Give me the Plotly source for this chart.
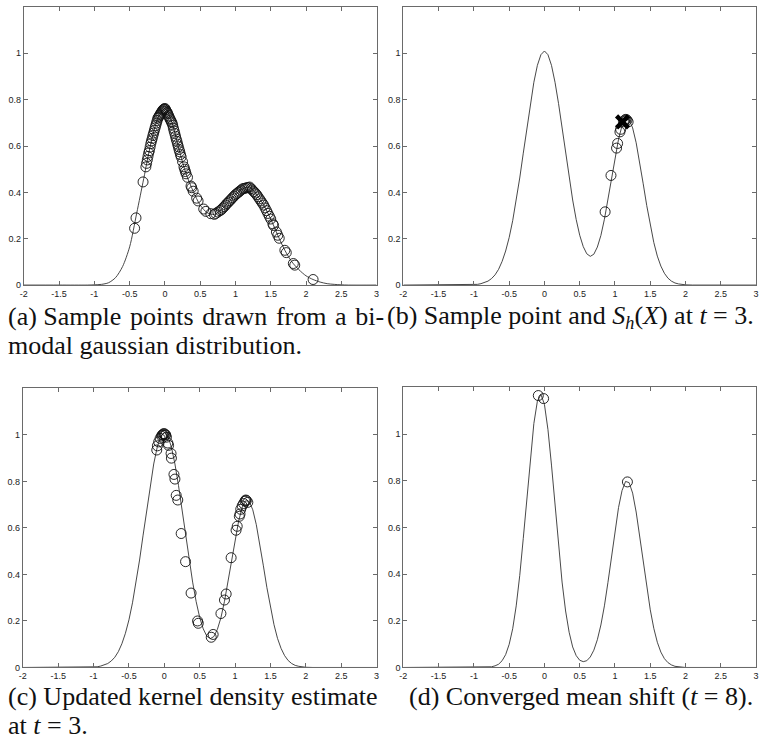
import plotly.graph_objects as go

# ---------------- data ----------------
# (a) kernel density of the initial bimodal samples
curve_a_x = [-2.0, -1.5, -1.1, -1.0, -0.9, -0.8, -0.7, -0.6, -0.5, -0.4, -0.3, -0.2, -0.1,
             0.0, 0.1, 0.2, 0.3, 0.4, 0.5, 0.6, 0.7, 0.8, 0.9, 1.0, 1.1, 1.2, 1.3, 1.4,
             1.5, 1.6, 1.7, 1.8, 1.9, 2.0, 2.1, 2.2, 2.3, 2.4, 2.5, 2.6, 3.0]
curve_a_y = [0.0, 0.0, 0.0, 0.001, 0.003, 0.01, 0.032, 0.08, 0.165, 0.31, 0.46, 0.61, 0.72,
             0.762, 0.70, 0.585, 0.48, 0.405, 0.345, 0.312, 0.305, 0.325, 0.358, 0.39, 0.415,
             0.423, 0.39, 0.345, 0.285, 0.215, 0.15, 0.10, 0.066, 0.04, 0.024, 0.013, 0.006,
             0.003, 0.001, 0.0, 0.0]

samples_a_x = [-0.43, -0.41, -0.31, -0.27, -0.26, -0.25, -0.24, -0.23, -0.22, -0.21, -0.20,
               -0.19, -0.18, -0.17, -0.16, -0.15, -0.14, -0.13, -0.12, -0.11, -0.10, -0.09,
               -0.08, -0.07, -0.06, -0.05, -0.04, -0.03, -0.02, -0.01, 0.00, 0.01, 0.02, 0.03,
               0.04, 0.05, 0.06, 0.07, 0.08, 0.09, 0.10, 0.11, 0.12, 0.13, 0.14, 0.15, 0.16,
               0.17, 0.18, 0.19, 0.20, 0.21, 0.22, 0.23, 0.25, 0.27, 0.28, 0.29, 0.30, 0.32,
               0.37, 0.38, 0.40, 0.45, 0.47, 0.55, 0.58, 0.65, 0.70, 0.72, 0.75, 0.78, 0.80,
               0.82, 0.84, 0.86, 0.88, 0.90, 0.92, 0.94, 0.96, 0.98, 1.00, 1.02, 1.04, 1.06,
               1.08, 1.10, 1.12, 1.14, 1.16, 1.18, 1.20, 1.22, 1.24, 1.26, 1.28, 1.30, 1.32,
               1.34, 1.36, 1.38, 1.40, 1.42, 1.44, 1.46, 1.48, 1.50, 1.53, 1.54, 1.58, 1.60,
               1.62, 1.70, 1.72, 1.82, 1.84, 2.10]
samples_a_y = [0.245, 0.29, 0.445, 0.51, 0.525, 0.54, 0.555, 0.57, 0.58, 0.595, 0.61,
               0.622, 0.633, 0.645, 0.656, 0.667, 0.678, 0.688, 0.699, 0.71, 0.72, 0.725,
               0.73, 0.735, 0.74, 0.745, 0.75, 0.755, 0.758, 0.76, 0.762, 0.757, 0.75, 0.745,
               0.74, 0.732, 0.725, 0.718, 0.712, 0.705, 0.70, 0.69, 0.677, 0.665, 0.654, 0.642,
               0.63, 0.62, 0.608, 0.597, 0.585, 0.575, 0.563, 0.553, 0.532, 0.51, 0.50, 0.49,
               0.48, 0.465, 0.427, 0.42, 0.405, 0.375, 0.363, 0.328, 0.318, 0.308, 0.305,
               0.309, 0.315, 0.321, 0.325, 0.332, 0.338, 0.345, 0.352, 0.358, 0.364, 0.371,
               0.377, 0.384, 0.39, 0.395, 0.40, 0.405, 0.41, 0.415, 0.417, 0.418, 0.42, 0.421,
               0.423, 0.416, 0.41, 0.403, 0.397, 0.39, 0.381, 0.372, 0.363, 0.354, 0.345,
               0.333, 0.321, 0.309, 0.297, 0.285, 0.264, 0.257, 0.229, 0.215, 0.202, 0.15,
               0.14, 0.093, 0.086, 0.024]

# (b) and (c) kernel density at t = 3
curve_bc_x = [-2.0, -1.5, -1.1, -1.0, -0.95, -0.9, -0.85, -0.8, -0.75, -0.7, -0.65, -0.6,
              -0.55, -0.5, -0.45, -0.4, -0.35, -0.3, -0.25, -0.2, -0.15, -0.1, -0.05, 0.0,
              0.05, 0.1, 0.15, 0.2, 0.25, 0.3, 0.35, 0.4, 0.45, 0.5, 0.55, 0.6, 0.65, 0.7,
              0.75, 0.8, 0.85, 0.9, 0.95, 1.0, 1.05, 1.1, 1.15, 1.2, 1.25, 1.3, 1.35, 1.4,
              1.45, 1.5, 1.55, 1.6, 1.65, 1.7, 1.75, 1.8, 1.85, 1.9, 1.95, 2.0, 2.1, 3.0]
curve_bc_y = [0.0, 0.0, 0.0005, 0.002, 0.003, 0.006, 0.010, 0.017, 0.028, 0.044, 0.068, 0.102,
              0.147, 0.205, 0.278, 0.364, 0.462, 0.569, 0.678, 0.783, 0.875, 0.948, 0.994, 1.010,
              0.994, 0.948, 0.875, 0.783, 0.678, 0.570, 0.463, 0.367, 0.283, 0.215, 0.166, 0.135,
              0.124, 0.133, 0.164, 0.214, 0.284, 0.367, 0.459, 0.550, 0.629, 0.688, 0.717, 0.714,
              0.678, 0.614, 0.530, 0.437, 0.343, 0.257, 0.184, 0.125, 0.082, 0.051, 0.030, 0.017,
              0.009, 0.005, 0.002, 0.001, 0.0, 0.0]

samples_b_x = [0.86, 0.943, 1.022, 1.037, 1.07, 1.08, 1.12, 1.14, 1.154, 1.17, 1.186]
samples_b_y = [0.316, 0.473, 0.591, 0.611, 0.661, 0.672, 0.705, 0.712, 0.715, 0.712, 0.704]
shift_b_x = [1.107]
shift_b_y = [0.704]

samples_c_x = [-0.107, -0.098, -0.08, -0.06, -0.04, -0.03, -0.02, -0.01, 0.0, 0.01, 0.02,
               0.03, 0.05, 0.06, 0.095, 0.10, 0.136, 0.15, 0.168, 0.19, 0.238, 0.30, 0.378,
               0.47, 0.48, 0.663, 0.69, 0.80, 0.85, 0.874, 0.944, 1.014, 1.03, 1.06, 1.07,
               1.08, 1.10, 1.12, 1.14, 1.15, 1.16, 1.18]
samples_c_y = [0.935, 0.953, 0.97, 0.985, 0.995, 1.0, 1.0, 1.005, 1.005, 1.0, 1.0,
               0.99, 0.965, 0.955, 0.92, 0.90, 0.83, 0.81, 0.74, 0.72, 0.576, 0.455, 0.32,
               0.20, 0.19, 0.13, 0.142, 0.232, 0.29, 0.316, 0.472, 0.59, 0.607, 0.65, 0.66,
               0.68, 0.695, 0.705, 0.715, 0.72, 0.718, 0.71]

# (d) converged density at t = 8
curve_d_x = [-2.0, -1.5, -1.0, -0.95, -0.9, -0.85, -0.8, -0.75, -0.7, -0.65, -0.6, -0.55,
             -0.5, -0.45, -0.4, -0.35, -0.3, -0.25, -0.2, -0.15, -0.1, -0.05, 0.0, 0.05,
             0.1, 0.15, 0.2, 0.25, 0.3, 0.35, 0.4, 0.45, 0.5, 0.55, 0.6, 0.65, 0.7, 0.75,
             0.8, 0.85, 0.9, 0.95, 1.0, 1.05, 1.1, 1.15, 1.2, 1.25, 1.3, 1.35, 1.4, 1.45,
             1.5, 1.55, 1.6, 1.65, 1.7, 1.75, 1.8, 1.85, 1.9, 1.95, 2.0, 3.0]
curve_d_y = [0.0, 0.0, 0.0, 0.0, 0.0002, 0.0004, 0.001, 0.003, 0.007, 0.014, 0.029, 0.055,
             0.099, 0.166, 0.264, 0.394, 0.553, 0.728, 0.900, 1.045, 1.141, 1.170, 1.127, 1.019,
             0.867, 0.692, 0.519, 0.366, 0.242, 0.151, 0.088, 0.051, 0.031, 0.025, 0.029, 0.045,
             0.074, 0.119, 0.182, 0.264, 0.364, 0.474, 0.585, 0.685, 0.758, 0.797, 0.792, 0.747,
             0.666, 0.564, 0.452, 0.343, 0.247, 0.168, 0.108, 0.066, 0.038, 0.021, 0.011, 0.005,
             0.003, 0.001, 0.0, 0.0]
samples_d_x = [-0.087, -0.012, 1.176]
samples_d_y = [1.165, 1.152, 0.795]

x_tickvals = [-2, -1.5, -1, -0.5, 0, 0.5, 1, 1.5, 2, 2.5, 3]
x_ticktext = ["-2", "-1.5", "-1", "-0.5", "0", "0.5", "1", "1.5", "2", "2.5", "3"]
y_tickvals = [0, 0.2, 0.4, 0.6, 0.8, 1]
y_ticktext = ["0", "0.2", "0.4", "0.6", "0.8", "1"]

caption_a = ["(a) Sample points drawn from a bi-", "modal gaussian distribution."]
caption_b = ["(b) Sample point and <i>S</i><sub><i>h</i></sub>(<i>X</i>) at <i>t</i> = 3."]
caption_c = ["(c) Updated kernel density estimate", "at <i>t</i> = 3."]
caption_d = ["(d) Converged mean shift (<i>t</i> = 8)."]

# ---------------- figure ----------------
W, H = 770, 744
LINE = "#333333"
AX = "#6a6a6a"

fig = go.Figure()

panels = [
    ("x", "y", curve_a_x, curve_a_y, samples_a_x, samples_a_y, "spline"),
    ("x2", "y2", curve_bc_x, curve_bc_y, samples_b_x, samples_b_y, "linear"),
    ("x3", "y3", curve_bc_x, curve_bc_y, samples_c_x, samples_c_y, "linear"),
    ("x4", "y4", curve_d_x, curve_d_y, samples_d_x, samples_d_y, "linear"),
]
for xa, ya, cx, cy, sx, sy, shape in panels:
    fig.add_trace(go.Scatter(x=cx, y=cy, xaxis=xa, yaxis=ya, mode="lines",
                             line=dict(color=LINE, width=0.9, shape=shape, smoothing=0.8),
                             hoverinfo="skip", showlegend=False))
    fig.add_trace(go.Scatter(x=sx, y=sy, xaxis=xa, yaxis=ya, mode="markers",
                             marker=dict(symbol="circle-open", size=10, color="#111111",
                                         line=dict(width=0.9, color="#111111")),
                             showlegend=False))

fig.add_trace(go.Scatter(x=shift_b_x, y=shift_b_y, xaxis="x2", yaxis="y2", mode="markers",
                         marker=dict(symbol="x-thin-open", size=12, color="#000000",
                                     line=dict(width=4.5, color="#000000")),
                         showlegend=False))

def px_x(p):
    return p / W

def px_y(p):
    return 1 - p / H

domains = {
    "": ((20, 376), (7, 287)),
    "2": ((403, 759), (7, 287)),
    "3": ((19, 376), (391, 672)),
    "4": ((403, 759), (390, 672)),
}

axis_common = dict(showline=True, linecolor=AX, linewidth=1, mirror="ticks", ticks="inside",
                   ticklen=4, tickcolor=AX, tickwidth=1, showgrid=False, zeroline=False,
                   ticklabeloverflow="allow",
                   tickfont=dict(family="Liberation Sans, Arial, sans-serif", size=9,
                                 color="#222222"), fixedrange=True)

for k, ((x0, x1), (y0, y1)) in domains.items():
    anchor_x = "y" + k
    anchor_y = "x" + k
    fig.layout["xaxis" + k] = dict(axis_common, domain=[px_x(x0), px_x(x1)], anchor=anchor_x,
                                   range=[-2, 3], tickmode="array", tickvals=x_tickvals,
                                   ticktext=x_ticktext)
    fig.layout["yaxis" + k] = dict(axis_common, domain=[px_y(y1), px_y(y0)], anchor=anchor_y,
                                   range=[0, 1.2], tickmode="array", tickvals=y_tickvals,
                                   ticktext=y_ticktext)

FONT = dict(family="Liberation Serif, Times New Roman, serif", size=26, color="#111111")
ann = []

def add(text, x, y, anchor="left"):
    ann.append(dict(text=text, x=px_x(x), y=px_y(y), xref="paper", yref="paper",
                    xanchor=anchor, yanchor="middle", showarrow=False, font=FONT,
                    borderpad=0))

# justified first line of (a): widen five of the inter-word gaps with a hair space
words_a = caption_a[0].split(" ")
line_a = words_a[0] + " " + " \u200a".join(words_a[1:])
add(line_a, 3, 319)
add(caption_a[1], 3, 348)
add(caption_b[0], 386, 319)
add(caption_c[0], 3, 701)
add(caption_c[1], 3, 730)
add(caption_d[0], 408, 701)

fig.update_layout(width=W, height=H, margin=dict(l=0, r=0, t=0, b=0),
                  paper_bgcolor="white", plot_bgcolor="white", annotations=ann,
                  showlegend=False)

fig.write_html("out.html", config={"displayModeBar": False, "staticPlot": True},
               post_script="document.body.style.margin='0';document.body.style.overflow='hidden';")
